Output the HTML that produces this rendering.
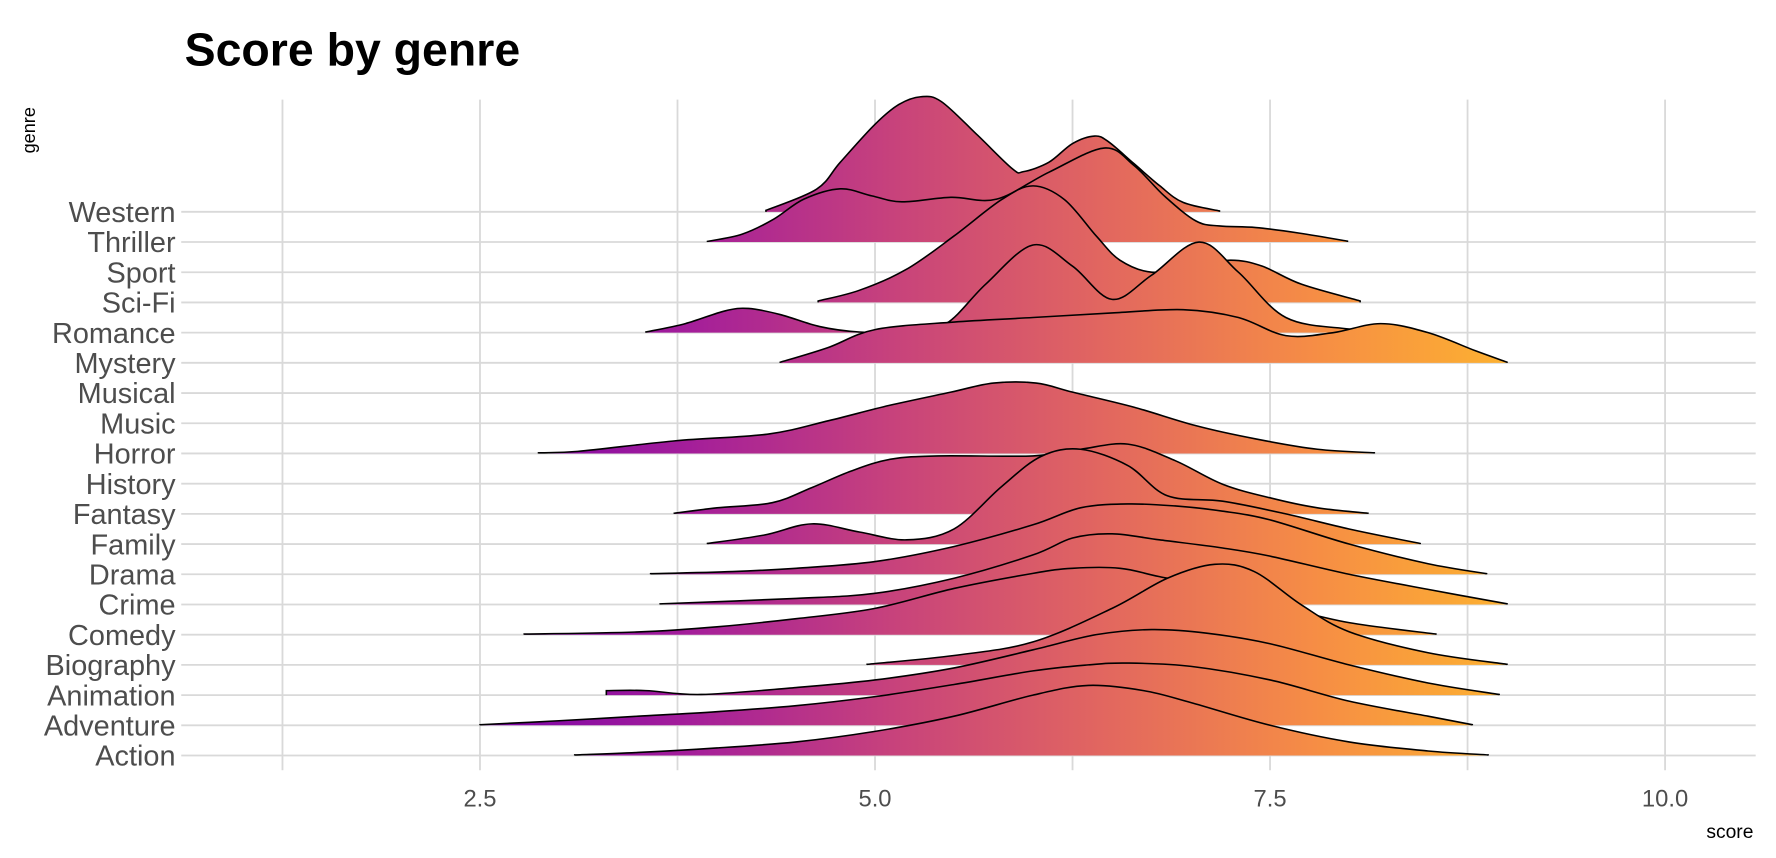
<!DOCTYPE html>
<html><head><meta charset="utf-8"><style>
html,body{margin:0;padding:0;background:#fff;}
svg{display:block;font-family:"Liberation Sans",Arial,sans-serif;}
</style></head><body>
<svg id="chart" width="1776" height="858" viewBox="0 0 1776 858" xmlns="http://www.w3.org/2000/svg">
<defs>
<linearGradient id="plasma" gradientUnits="userSpaceOnUse" x1="424" y1="0" x2="1345" y2="0">
<stop offset="0" stop-color="#7a02a8"/>
<stop offset="0.2" stop-color="#a41e9a"/>
<stop offset="0.4" stop-color="#c8437b"/>
<stop offset="0.6" stop-color="#e2675f"/>
<stop offset="0.8" stop-color="#f68d45"/>
<stop offset="1" stop-color="#fdb42f"/>
</linearGradient>
</defs>
<g transform="scale(1.1327)">
<text x="163" y="58" font-size="41" font-weight="bold" fill="#000">Score by genre</text>
<text transform="translate(31,115) rotate(-90)" text-anchor="middle" font-size="16" fill="#000">genre</text>
<text x="1548" y="740" text-anchor="end" font-size="17" fill="#000">score</text>
<g id="grid"></g>
<g id="ridges"></g>
<g id="ylabels"></g>
<g id="xlabels"></g>
</g>
</svg>
<script>
const genres = ["Action","Adventure","Animation","Biography","Comedy","Crime","Drama","Family","Fantasy","History","Horror","Music","Musical","Mystery","Romance","Sci-Fi","Sport","Thriller","Western"];
const xTicks = [2.5, 5.0, 7.5, 10.0];
const xTickLabels = ["2.5","5.0","7.5","10.0"];
const xMinorTicks = [1.25, 3.75, 6.25, 8.75];
// density profiles: scores and heights (in row units)
const westernScores = [4.31,4.63,4.78,5.0,5.15,5.29,5.42,5.65,5.87,5.94,6.1,6.25,6.39,6.48,6.64,6.8,6.95,7.18];
const westernHeights = [0.05,0.75,1.64,2.9,3.55,3.81,3.65,2.53,1.42,1.33,1.64,2.26,2.51,2.31,1.59,0.87,0.31,0.03];
const thrillerScores = [3.94,4.16,4.36,4.55,4.78,4.98,5.17,5.48,5.77,6.1,6.45,6.64,6.83,7.03,7.18,7.41,7.69,7.99];
const thrillerHeights = [0.02,0.26,0.76,1.42,1.76,1.53,1.33,1.48,1.42,2.31,3.11,2.53,1.53,0.7,0.53,0.48,0.29,0.03];
const scifiScores = [4.64,4.9,5.2,5.5,5.8,6.0,6.2,6.4,6.55,6.75,7.0,7.25,7.45,7.7,8.07];
const scifiHeights = [0.05,0.4,1.1,2.2,3.4,3.86,3.4,2.2,1.4,1.0,1.2,1.4,1.2,0.6,0.05];
const romanceScores = [3.55,3.8,4.05,4.2,4.4,4.65,4.9,5.2,5.45,5.7,6.0,6.25,6.5,6.75,7.05,7.3,7.6,8.0,8.3];
const romanceHeights = [0.02,0.3,0.72,0.8,0.6,0.2,0.02,0.02,0.3,1.6,2.9,2.2,1.1,1.9,3.0,2.0,0.5,0.12,0.02];
const mysteryScores = [4.4,4.7,5.0,5.5,6.0,6.5,6.95,7.3,7.6,7.9,8.2,8.5,8.8,9.0];
const mysteryHeights = [0.02,0.5,1.1,1.35,1.5,1.65,1.76,1.5,0.9,1.0,1.3,1.0,0.4,0.02];
const horrorScores = [2.87,3.12,3.74,4.32,4.71,5.09,5.48,5.75,6.02,6.25,6.64,7.03,7.41,7.8,8.16];
const horrorHeights = [0.02,0.07,0.42,0.64,1.09,1.59,2.03,2.33,2.33,2.03,1.53,0.92,0.48,0.14,0.02];
const fantasyScores = [3.73,4.0,4.35,4.6,4.85,5.1,5.4,6.0,6.3,6.6,6.9,7.2,7.5,7.8,8.12];
const fantasyHeights = [0.02,0.2,0.37,0.87,1.42,1.81,1.92,1.92,2.14,2.31,1.76,0.98,0.53,0.2,0.02];
const familyScores = [3.94,4.3,4.6,4.9,5.2,5.5,5.8,6.05,6.3,6.6,6.85,7.2,7.6,8.0,8.45];
const familyHeights = [0.02,0.3,0.67,0.4,0.14,0.5,1.9,2.9,3.14,2.6,1.6,1.42,1.0,0.5,0.02];
const dramaScores = [3.58,4.1,4.5,5.0,5.5,6.0,6.3,6.6,6.9,7.2,7.5,8.0,8.5,8.87];
const dramaHeights = [0.02,0.09,0.2,0.42,0.92,1.64,2.2,2.33,2.26,2.09,1.8,1.0,0.35,0.02];
const crimeScores = [3.64,4.5,5.0,5.5,6.0,6.25,6.5,6.8,7.2,7.5,8.0,8.5,9.0];
const crimeHeights = [0.02,0.2,0.37,0.87,1.64,2.2,2.34,2.14,1.87,1.6,1.0,0.5,0.02];
const comedyScores = [2.78,3.5,4.0,4.5,5.0,5.5,6.0,6.25,6.55,6.8,7.2,7.6,8.0,8.55];
const comedyHeights = [0.02,0.09,0.26,0.53,0.87,1.53,2.03,2.2,2.2,1.92,1.5,0.9,0.4,0.02];
const biographyScores = [4.95,5.5,6.0,6.5,6.85,7.15,7.4,7.7,8.0,8.5,9.0];
const biographyHeights = [0.02,0.31,0.76,1.87,2.87,3.33,3.09,1.98,1.1,0.4,0.02];
const animationScores = [3.3,3.55,3.9,4.5,5.0,5.5,6.0,6.4,6.75,7.1,7.5,8.0,8.5,8.95];
const animationHeights = [0.15,0.15,0.02,0.25,0.5,0.9,1.5,2.0,2.17,2.05,1.7,1.0,0.4,0.02];
const adventureScores = [2.5,3.0,3.5,4.0,4.5,5.0,5.5,6.0,6.35,6.6,7.0,7.5,8.0,8.5,8.78];
const adventureHeights = [0.02,0.15,0.3,0.45,0.65,0.95,1.35,1.8,2.0,2.06,1.95,1.5,0.8,0.3,0.02];
const actionScores = [3.1,3.5,4.0,4.5,5.0,5.5,6.0,6.35,6.7,7.0,7.5,8.0,8.5,8.88];
const actionHeights = [0.02,0.1,0.25,0.45,0.8,1.3,2.0,2.32,2.15,1.75,1.0,0.45,0.15,0.02];

const NS = "http://www.w3.org/2000/svg";
const xScale = s => 75 + s * 139.5;
const rowGap = (667 - 187) / 18;
const yBase = g => 667 - genres.indexOf(g) * rowGap;
const plotL = 160, plotR = 1550, plotT = 88, plotB = 680;

const grid = document.getElementById('grid');
function line(x1,y1,x2,y2,name){
  const l = document.createElementNS(NS,'line');
  l.setAttribute('x1',x1);l.setAttribute('y1',y1);l.setAttribute('x2',x2);l.setAttribute('y2',y2);
  l.setAttribute('stroke','#d9d9d9');l.setAttribute('stroke-width','1.6');
  
  
  grid.appendChild(l);
}
xMinorTicks.forEach(t => line(xScale(t),plotT,xScale(t),plotB,'x-minor-gridline'));
xTicks.forEach(t => line(xScale(t),plotT,xScale(t),plotB,'x-gridline'));
genres.forEach(g => line(plotL,yBase(g),plotR,yBase(g),'y-gridline'));

const ylab = document.getElementById('ylabels');
genres.forEach(g => {
  const t = document.createElementNS(NS,'text');
  t.setAttribute('x',155);t.setAttribute('y',yBase(g)+9);
  t.setAttribute('text-anchor','end');t.setAttribute('font-size','25.5');t.setAttribute('fill','#4d4d4d');
  t.textContent = g;
  
  
  ylab.appendChild(t);
});
const xlab = document.getElementById('xlabels');
xTicks.forEach((v,i) => {
  const t = document.createElementNS(NS,'text');
  t.setAttribute('x',xScale(v));t.setAttribute('y',712);
  t.setAttribute('text-anchor','middle');t.setAttribute('font-size','21');t.setAttribute('fill','#4d4d4d');
  t.textContent = xTickLabels[i];
  
  
  xlab.appendChild(t);
});

const ridgeData = [
  ["Western", westernScores, westernHeights],
  ["Thriller", thrillerScores, thrillerHeights],
  ["Sci-Fi", scifiScores, scifiHeights],
  ["Romance", romanceScores, romanceHeights],
  ["Mystery", mysteryScores, mysteryHeights],
  ["Horror", horrorScores, horrorHeights],
  ["Fantasy", fantasyScores, fantasyHeights],
  ["Family", familyScores, familyHeights],
  ["Drama", dramaScores, dramaHeights],
  ["Crime", crimeScores, crimeHeights],
  ["Comedy", comedyScores, comedyHeights],
  ["Biography", biographyScores, biographyHeights],
  ["Animation", animationScores, animationHeights],
  ["Adventure", adventureScores, adventureHeights],
  ["Action", actionScores, actionHeights]
];
function smoothPath(pts){
  let d = 'M' + pts[0][0].toFixed(1) + ',' + pts[0][1].toFixed(1);
  for (let i=0;i<pts.length-1;i++){
    const p0 = pts[i-1]||pts[i], p1=pts[i], p2=pts[i+1], p3=pts[i+2]||pts[i+1];
    const c1x = p1[0]+(p2[0]-p0[0])/6, c1y = p1[1]+(p2[1]-p0[1])/6;
    const c2x = p2[0]-(p3[0]-p1[0])/6, c2y = p2[1]-(p3[1]-p1[1])/6;
    d += ' C'+c1x.toFixed(1)+','+c1y.toFixed(1)+' '+c2x.toFixed(1)+','+c2y.toFixed(1)+' '+p2[0].toFixed(1)+','+p2[1].toFixed(1);
  }
  return d;
}
const ridges = document.getElementById('ridges');
ridgeData.forEach(([g, sc, hs]) => {
  const b = yBase(g);
  const pts = sc.map((s,i) => [xScale(s), b - hs[i]*rowGap]);
  const top = smoothPath(pts);
  const grp = document.createElementNS(NS,'g');
  
  
  const fill = document.createElementNS(NS,'path');
  fill.setAttribute('d', top + ' L' + pts[pts.length-1][0].toFixed(1) + ',' + b + ' L' + pts[0][0].toFixed(1) + ',' + b + ' Z');
  fill.setAttribute('fill','url(#plasma)');
  
  
  const stroke = document.createElementNS(NS,'path');
  stroke.setAttribute('d', 'M' + pts[0][0].toFixed(1) + ',' + b + ' L' + top.slice(1) + ' L' + pts[pts.length-1][0].toFixed(1) + ',' + b);
  stroke.setAttribute('fill','none');stroke.setAttribute('stroke','#000');stroke.setAttribute('stroke-width','1.4');
  
  
  grp.appendChild(fill);grp.appendChild(stroke);
  ridges.appendChild(grp);
});
</script>
</body></html>
